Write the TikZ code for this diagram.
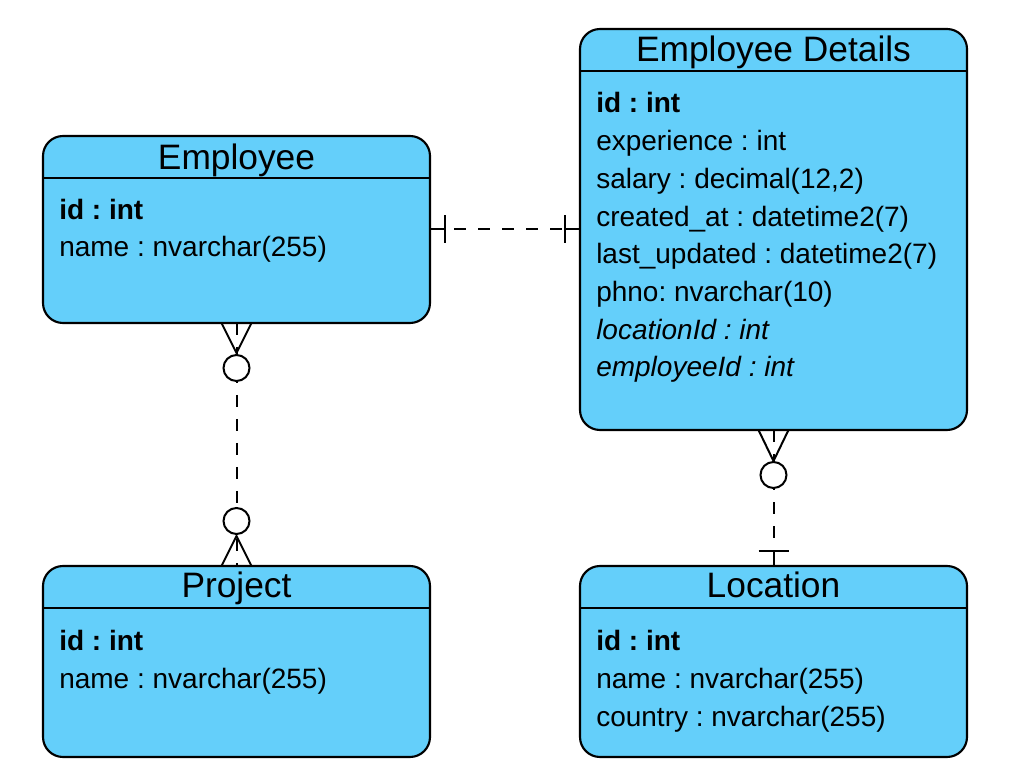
\documentclass[tikz,border=0pt]{standalone}
\usepackage{fontspec}
\setmainfont{Liberation Sans}
\usetikzlibrary{calc}
\frenchspacing
\definecolor{entityblue}{RGB}{100,207,250}
\tikzset{
	entity/.style={draw, fill=entityblue, line width=1.6pt, rounded corners=15pt, minimum width=290.25pt, inner sep=0pt, outer sep=0pt},
	entitytitle/.style={anchor=base, font=\fontsize{26.5}{31}\selectfont},
	attrline/.style={anchor=base west, inner sep=0pt, font=\fontsize{21}{25}\selectfont},
	rel/.style={line width=1.5pt, dash pattern=on 9pt off 9pt},
	relend/.style={line width=1.5pt},
	zerocirc/.style={circle, draw, fill=white, line width=1.5pt, minimum size=19.5pt, inner sep=0pt},
}

\begin{document}
\begin{tikzpicture}[x=0.75pt, y=-0.75pt]
			%%%%% START %%%%%
			\useasboundingbox (0, 0) rectangle (1022, 777);
			
			\node[entity, minimum height=140.25pt] (employee) at (236.5, 229.5) {};
			\node[entity, minimum height=300.75pt] (details) at (773.5, 229.5) {};
			\node[entity, minimum height=143.25pt] (project) at (236.5, 661.5) {};
			\node[entity, minimum height=143.25pt] (location) at (773.5, 661.5) {};
			
			\draw[line width=1.6pt] ($(employee.north west)+(0, 42)$) -- ($(employee.north east)+(0, 42)$);
			\draw[line width=1.6pt] ($(details.north west)+(0, 42)$) -- ($(details.north east)+(0, 42)$);
			\draw[line width=1.6pt] ($(project.north west)+(0, 42)$) -- ($(project.north east)+(0, 42)$);
			\draw[line width=1.6pt] ($(location.north west)+(0, 42)$) -- ($(location.north east)+(0, 42)$);
			
			\node[entitytitle] (employee-title) at (236.5, 169.5) {Employee};
			\node[attrline] (employee-id) at (59, 220) {\textbf{id : int}};
			\node[attrline] (employee-name) at (59, 257) {name : nvarchar(255)};
			
			\node[entitytitle] (details-title) at (773.5, 61.5) {Employee Details};
			\node[attrline] (details-id) at (596, 113) {\textbf{id : int}};
			\node[attrline] (details-experience) at (596, 150.7) {experience : int};
			\node[attrline] (details-salary) at (596, 188.4) {salary : decimal(12,2)};
			\node[attrline] (details-created) at (596, 226.1) {created\_at : datetime2(7)};
			\node[attrline] (details-updated) at (596, 263.8) {last\_updated : datetime2(7)};
			\node[attrline] (details-phno) at (596, 301.5) {phno: nvarchar(10)};
			\node[attrline] (details-location) at (596, 339.2) {\itshape locationId : int};
			\node[attrline] (details-employee) at (596, 376.9) {\itshape employeeId : int};
			
			\node[entitytitle] (project-title) at (236.5, 597.5) {Project};
			\node[attrline] (project-id) at (59, 650) {\textbf{id : int}};
			\node[attrline] (project-name) at (59, 688) {name : nvarchar(255)};
			
			\node[entitytitle] (location-title) at (773.5, 597.5) {Location};
			\node[attrline] (location-id) at (596, 650) {\textbf{id : int}};
			\node[attrline] (location-name) at (596, 688) {name : nvarchar(255)};
			\node[attrline] (location-country) at (596, 726) {country : nvarchar(255)};
			
			% employee -- details
			\draw[rel] (employee.east) -- (details.west);
			\draw[relend] (employee.east) -- ++(15, 0) ++(0, -14) -- ++(0, 28);
			\draw[relend] (details.west) -- ++(-15, 0) ++(0, -14) -- ++(0, 28);
			
			% employee -- project
			\draw[rel] (employee.south) -- (project.north);
			\draw[relend] ($(employee.south)+(-15, 0)$) -- ($(employee.south)+(0, 30)$) -- ($(employee.south)+(15, 0)$);
			\node[zerocirc] (employee-zero) at ($(employee.south)+(0, 45)$) {};
			\draw[relend] ($(project.north)+(-15, 0)$) -- ($(project.north)+(0, -30)$) -- ($(project.north)+(15, 0)$);
			\node[zerocirc] (project-zero) at ($(project.north)+(0, -45)$) {};
			
			% details -- location
			\draw[rel] (details.south) -- (location.north);
			\draw[relend] ($(details.south)+(-15, 0)$) -- ($(details.south)+(0, 31)$) -- ($(details.south)+(15, 0)$);
			\node[zerocirc] (details-zero) at ($(details.south)+(0, 45)$) {};
			\draw[relend] (location.north) -- ++(0, -15) ++(-15, 0) -- ++(30, 0);
			
			%%%%% END %%%%%
\end{tikzpicture}
\end{document}
